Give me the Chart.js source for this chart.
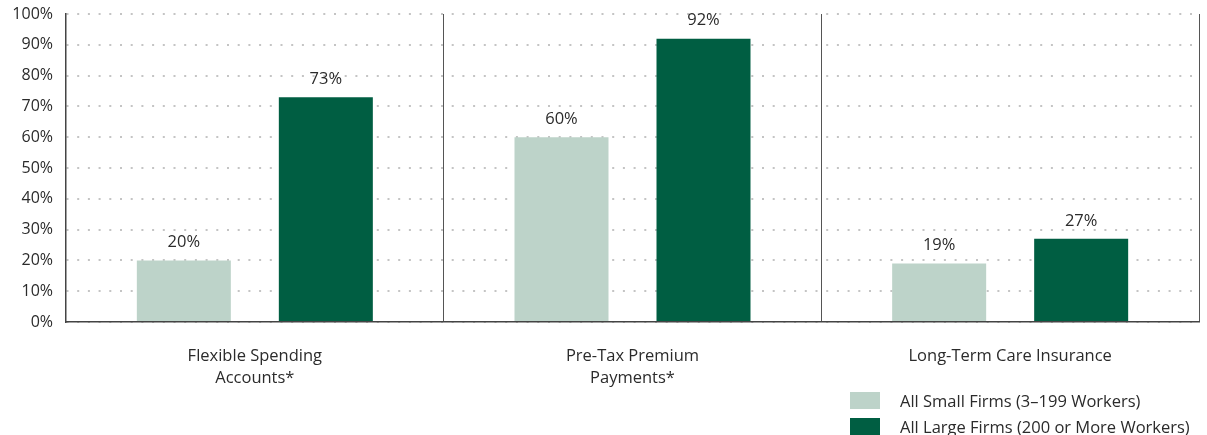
<!DOCTYPE html>
<html>
<head>
<meta charset="utf-8">
<script src="https://cdn.jsdelivr.net/npm/chart.js@4.4.1/dist/chart.umd.min.js"></script>
<style>
  html, body { margin: 0; padding: 0; background: #fff; }
  #wrap { width: 1207px; height: 435px; position: relative; }
</style>
</head>
<body>
<div id="wrap"><canvas id="benefitsChart"></canvas></div>
<script>
const categories = [
  ['Flexible Spending', 'Accounts*'],
  ['Pre-Tax Premium', 'Payments*'],
  'Long-Term Care Insurance'
];
const smallFirms = [20, 60, 19];
const largeFirms = [73, 92, 27];
const yTicks = [0, 10, 20, 30, 40, 50, 60, 70, 80, 90, 100];

const FONT = '"Open Sans", "Noto Sans", sans-serif';
const TEXT = '#2b2b2b';

// value labels above each bar
const barLabels = {
  id: 'barLabels',
  afterDatasetsDraw(chart) {
    const ctx = chart.ctx;
    ctx.save();
    ctx.font = '16.5px ' + FONT;
    ctx.fillStyle = TEXT;
    ctx.textAlign = 'center';
    ctx.textBaseline = 'middle';
    chart.data.datasets.forEach((ds, i) => {
      chart.getDatasetMeta(i).data.forEach((bar, j) => {
        ctx.fillText(ds.data[j] + '%', bar.x, bar.y - 18);
      });
    });
    ctx.restore();
  }
};

// stacked legend in the bottom right corner
const cornerLegend = {
  id: 'cornerLegend',
  afterDraw(chart) {
    const ctx = chart.ctx;
    ctx.save();
    ctx.font = '16.5px ' + FONT;
    ctx.textBaseline = 'middle';
    chart.data.datasets.forEach((ds, i) => {
      const y = 400 + i * 26;
      ctx.fillStyle = ds.backgroundColor;
      ctx.fillRect(850, y - 8, 30, 17);
      ctx.fillStyle = TEXT;
      ctx.fillText(ds.label, 900, y + 2);
    });
    ctx.restore();
  }
};

new Chart(document.getElementById('benefitsChart'), {
  type: 'bar',
  data: {
    labels: categories,
    datasets: [
      {
        label: 'All Small Firms (3\u2013199 Workers)',
        data: smallFirms,
        backgroundColor: '#bdd3c9',
        categoryPercentage: 0.752,
        barPercentage: 0.662
      },
      {
        label: 'All Large Firms (200 or More Workers)',
        data: largeFirms,
        backgroundColor: '#005e42',
        categoryPercentage: 0.752,
        barPercentage: 0.662
      }
    ]
  },
  options: {
    responsive: true,
    maintainAspectRatio: false,
    animation: false,
    layout: { padding: { top: 14, right: 8, left: 0, bottom: 0 } },
    plugins: {
      legend: { display: false },
      tooltip: { enabled: false }
    },
    scales: {
      x: {
        grid: {
          offset: true,
          color: '#555',
          lineWidth: 1,
          drawTicks: false
        },
        border: { color: '#444', width: 1.5 },
        ticks: {
          color: TEXT,
          font: { family: FONT, size: 16.5, lineHeight: 1.33 },
          padding: 23,
          maxRotation: 0
        },
        afterFit(scale) { scale.height = 113; }
      },
      y: {
        min: 0,
        max: 100,
        afterBuildTicks(scale) { scale.ticks = yTicks.map(v => ({ value: v })); },
        grid: {
          color: '#c4c4c4',
          lineWidth: 2,
          drawTicks: false
        },
        border: { color: '#444', width: 1.5, dash: [2, 8.7] },
        ticks: {
          color: TEXT,
          font: { family: FONT, size: 16 },
          padding: 13,
          callback: v => v + '%'
        },
        afterFit(scale) {
          scale.width = 66;
          // keep the tick padding from pushing the plot down
          scale.paddingTop = 0;
          scale.paddingBottom = 0;
        }
      }
    }
  },
  plugins: [barLabels, cornerLegend]
});
</script>
</body>
</html>
